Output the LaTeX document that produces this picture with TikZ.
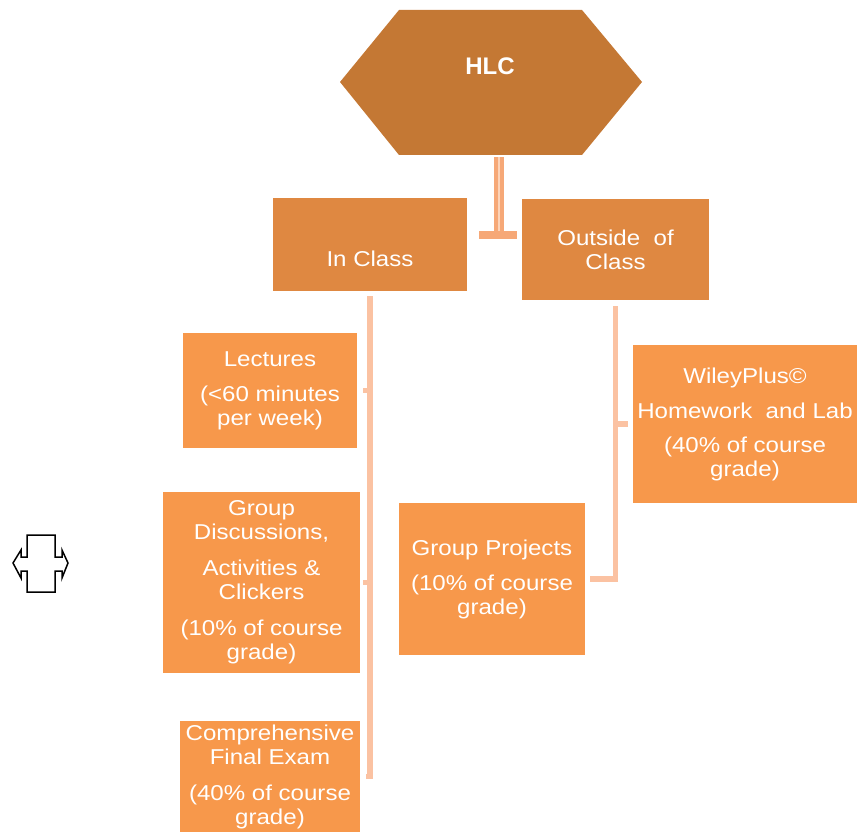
\documentclass[tikz,border=0pt]{standalone}
\usepackage{fontspec}
\setmainfont{Liberation Sans}[FakeStretch=1.12]
\newfontfamily\hlcfont{Liberation Sans}
\usepackage{tikz}

\definecolor{hexorange}{HTML}{C47834}
\definecolor{midorange}{HTML}{DF8841}
\definecolor{leaforange}{HTML}{F7984B}
\definecolor{stemcolor}{HTML}{FBC2A2}
\definecolor{trunkcolor}{HTML}{F6A877}
\definecolor{trunkmid}{HTML}{FCD3B8}

\tikzset{
  box/.style={fill=#1, text=white, inner sep=0pt, align=center,
    font=\fontsize{21.5}{24}\selectfont},
  stem/.style={draw=stemcolor, line width=5.5pt},
  trunk/.style={draw=trunkcolor, line width=4.5pt, double=trunkmid, double distance=1.5pt},
}

\begin{document}
\begin{tikzpicture}[x=1pt,y=-1pt]
        \useasboundingbox (0,0) rectangle (857,832);
        %% top of the tree
        \fill[hexorange] (340,82) -- (399,10) -- (582,10) -- (642,82)
        -- (582,155) -- (399,155) -- cycle;
        \node[text=white, inner sep=0pt] (hlc) at (490,66)
          {\hlcfont\bfseries\fontsize{24}{28}\selectfont HLC};
        \node[box=midorange, minimum width=194pt, minimum height=93pt] (inclass)
          at (370,244.5) {\mbox{}\\[20pt]In Class};
        \node[box=midorange, minimum width=187pt, minimum height=101pt] (outside)
          at (615.5,249.5) {Outside\ \ of\\Class};
        %% leaves
        \node[box=leaforange, minimum width=174pt, minimum height=115pt] (lectures)
          at (270,390.5) {Lectures\\[11pt](<60 minutes\\per week)};
        \node[box=leaforange, minimum width=197pt, minimum height=181pt] (groupdisc)
          at (261.5,582.5) {Group\\Discussions,\\[12pt]Activities \&\\Clickers\\[12pt](10\% of course\\grade)};
        \node[box=leaforange, minimum width=180pt, minimum height=111pt] (finalexam)
          at (270,776.5) {Comprehensive\\Final Exam\\[12pt](40\% of course\\grade)};
        \node[box=leaforange, minimum width=186pt, minimum height=152pt] (groupproj)
          at (492,579) {Group Projects\\[11pt](10\% of course\\grade)};
        \node[box=leaforange, minimum width=224pt, minimum height=158pt] (wiley)
          at (745,424) {WileyPlus©\\[11pt]Homework\ \ and Lab\\[10pt](40\% of course\\grade)};
        %% connectors
        \coordinate (hlcfoot) at (499,157);
        \coordinate (barleft) at (479,235);
        \coordinate (barright) at (517,235);
        \draw[trunk] (hlcfoot) -- (hlcfoot |- barleft);
        \draw[draw=trunkcolor, line width=8pt] (barleft) -- (barright);
        \draw[stem] ([yshift=-5pt]inclass.south) -- (inclass.south |- finalexam.center) -- ++(-4,0);
        \draw[stem] (inclass.south |- lectures.east) -- ++(-7,0);
        \draw[stem] (inclass.south |- groupdisc.east) -- ++(-7,0);
        \draw[stem] ([yshift=-6pt]outside.south) -- (outside.south |- groupproj.east)
        -- ([xshift=5pt]groupproj.east);
        \draw[stem] (outside.south |- wiley.west) -- ++(12,0);
        %% the little icon on the left
        \draw[line width=1.5pt, line join=miter] (27,535) -- (55,535) -- (55,557) -- (62,557)
        -- (62,550) -- (68,563) -- (62,578) -- (62,571) -- (55,571) -- (55,592)
        -- (27,592) -- (27,571) -- (21,571) -- (21,578) -- (13,563) -- (21,550)
        -- (21,557) -- (27,557) -- cycle;
      \end{tikzpicture}
\end{document}
